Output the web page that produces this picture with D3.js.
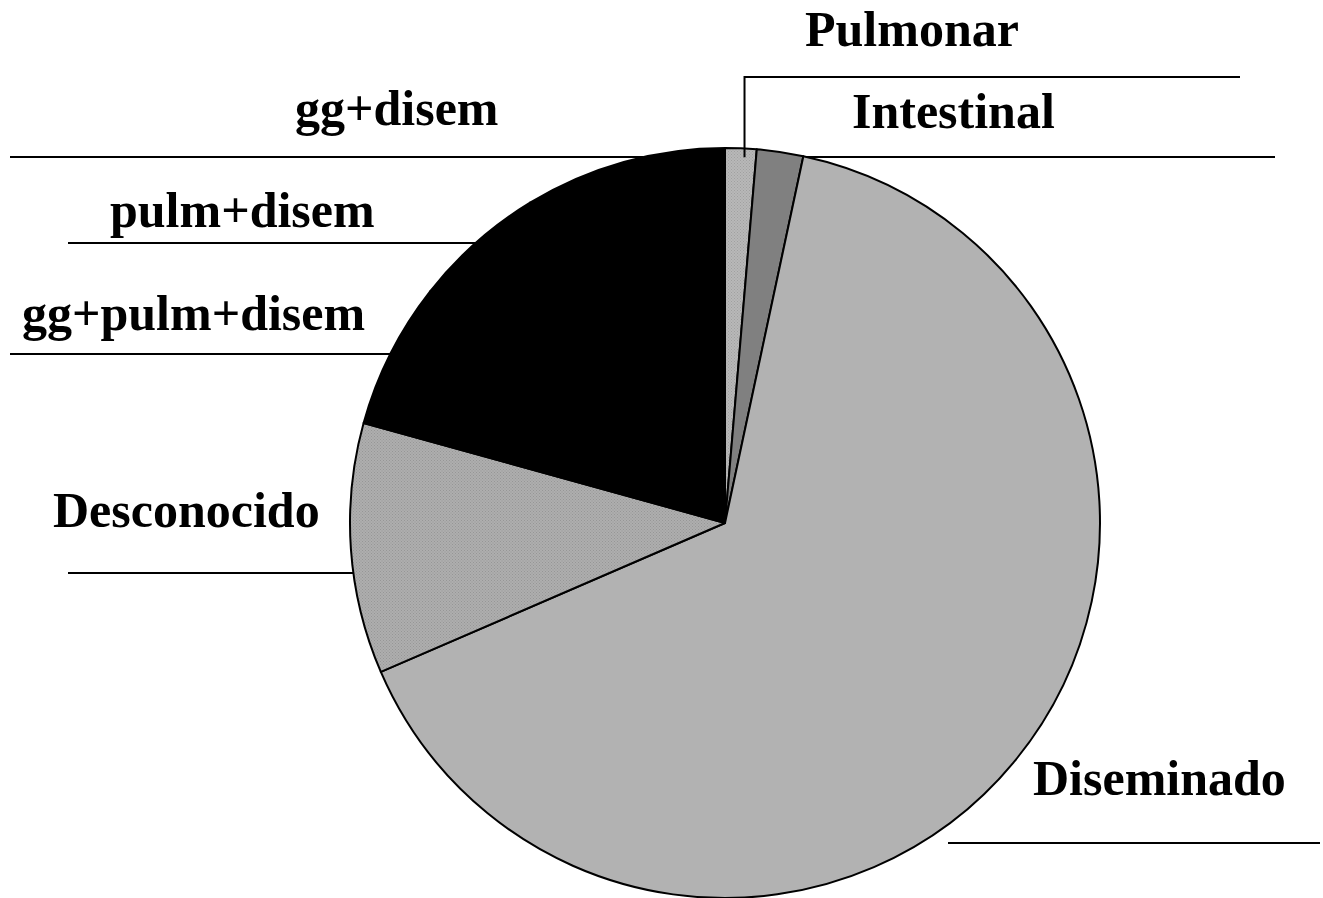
<!DOCTYPE html>
<html>
<head>
<meta charset="utf-8">
<script src="https://cdn.jsdelivr.net/npm/d3@7"></script>
<style>
  html, body { margin: 0; padding: 0; background: #fff; }
  svg { display: block; }
  text { font-family: "Liberation Serif", "Times New Roman", serif; font-weight: bold; fill: #000; }
</style>
</head>
<body>
<svg id="chart" width="1323" height="898"></svg>
<script>
// Localización de la enfermedad (% de casos), en orden horario desde las 12
const categories = ["Pulmonar", "Intestinal", "Diseminado", "Desconocido", "gg+pulm+disem", "pulm+disem", "gg+disem"];
const values = [1.35, 2.0, 65.15, 10.8, 6.3, 5.7, 8.7];
const fills = ["url(#dotsLight)", "#808080", "#b2b2b2", "url(#dotsMid)", "#000", "#000", "#000"];

// Label placement: text anchor point, and the horizontal rule under each label
const labelLayout = [
  { x: 805, y: 46,  lineY: 77,  lineFrom: "elbow", lineTo: 1240 },
  { x: 852, y: 128, lineY: 157, lineFrom: "edge",  lineTo: 1275 },
  { x: 1033, y: 795, lineY: 843, lineFrom: 948,   lineTo: 1320 },
  { x: 53,  y: 527, lineY: 573, lineFrom: 68,     lineTo: "edge" },
  { x: 22,  y: 330, lineY: 354, lineFrom: 10,     lineTo: "edge" },
  { x: 110, y: 227, lineY: 243, lineFrom: 68,     lineTo: "edge" },
  { x: 295, y: 125, lineY: 157, lineFrom: 10,     lineTo: "edge" }
];

const svg = d3.select("#chart");
const cx = 725, cy = 523, R = 375;

// Dotted textures for the two hatched slices
const defs = svg.append("defs");
function dotPattern(id, base, dot) {
  const p = defs.append("pattern").attr("id", id)
    .attr("patternUnits", "userSpaceOnUse").attr("width", 3).attr("height", 3);
  p.append("rect").attr("width", 3).attr("height", 3).attr("fill", base);
  p.append("rect").attr("x", 0).attr("y", 0).attr("width", 1).attr("height", 1).attr("fill", dot);
  p.append("rect").attr("x", 1.5).attr("y", 1.5).attr("width", 1).attr("height", 1).attr("fill", dot);
}
dotPattern("dotsLight", "#b8b8b8", "#a0a0a0");
dotPattern("dotsMid", "#aeaeae", "#969696");

const data = categories.map((c, i) => ({ name: c, value: values[i], fill: fills[i], layout: labelLayout[i] }));

const pie = d3.pie().value(d => d.value).sort(null).startAngle(0).endAngle(2 * Math.PI);
const arcs = pie(data);
const arc = d3.arc().innerRadius(0).outerRadius(R);

const g = svg.append("g").attr("transform", `translate(${cx},${cy})`);
g.selectAll("path.slice")
  .data(arcs)
  .join("path")
  .attr("class", "slice")
  .attr("d", arc)
  .attr("fill", d => d.data.fill)
  .attr("stroke", "#000")
  .attr("stroke-width", 2)
  .attr("stroke-linejoin", "round");

// x where a horizontal line at height y meets the pie rim on the given side
function rimX(y, side) {
  const dy = y - cy;
  const dx = Math.sqrt(Math.max(0, R * R - dy * dy));
  return cx + side * dx;
}

const lines = svg.append("g").attr("stroke", "#000").attr("stroke-width", 2).attr("fill", "none");
arcs.forEach(a => {
  const L = a.data.layout;
  const mid = (a.startAngle + a.endAngle) / 2;
  const side = Math.sin(mid) >= 0 ? 1 : -1;
  if (L.lineFrom === "elbow") {
    const ax = cx + (R - 9) * Math.sin(mid) + 4;
    const ay = cy - (R - 9) * Math.cos(mid);
    lines.append("path").attr("d", `M${ax},${ay}V${L.lineY}H${L.lineTo}`);
  } else {
    const x1 = L.lineFrom === "edge" ? rimX(L.lineY, side) : L.lineFrom;
    const x2 = L.lineTo === "edge" ? rimX(L.lineY, side) : L.lineTo;
    lines.append("line").attr("x1", x1).attr("x2", x2).attr("y1", L.lineY).attr("y2", L.lineY);
  }
});

svg.append("g").selectAll("text")
  .data(arcs)
  .join("text")
  .attr("x", d => d.data.layout.x)
  .attr("y", d => d.data.layout.y)
  .attr("font-size", 50)
  .text(d => d.data.name);
</script>
</body>
</html>
